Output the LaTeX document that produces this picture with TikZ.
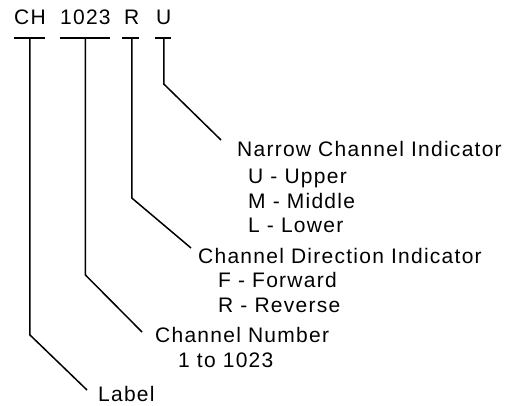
\documentclass[tikz,border=0pt]{standalone}
\usepackage{fontspec}
\setmainfont{Liberation Sans}[LetterSpace=6]

\begin{document}
\begin{tikzpicture}[x=1pt, y=-1pt,
		txt/.style={anchor=base west, inner sep=0pt, font=\fontsize{21}{25}\selectfont},
		lead/.style={line width=1.5pt, line join=miter}]
		\useasboundingbox (0,0) rectangle (513,406);
		
		% code fields
		\node[txt] (ch) at (14,25) {CH};
		\node[txt] (num) at (60,25) {1023};
		\node[txt] (dir) at (124,25) {R};
		\node[txt] (nar) at (156,25) {U};
		
		% descriptions
		\node[txt] (narT) at (237,157) {Narrow Channel Indicator};
		\node[txt] (narU) at (248,183) {U - Upper};
		\node[txt] (narM) at (248,208) {M - Middle};
		\node[txt] (narL) at (248,232) {L - Lower};
		
		\node[txt] (dirT) at (198,263) {Channel Direction Indicator};
		\node[txt] (dirF) at (218,287) {F - Forward};
		\node[txt] (dirR) at (218,312) {R - Reverse};
		
		\node[txt] (numT) at (155,342) {Channel Number};
		\node[txt] (numR) at (178,367) {1 to 1023};
		
		\node[txt] (lbl) at (98,401) {Label};
		
		% bend heights and line ends
		\coordinate (chBend) at (0,335);
		\coordinate (numBend) at (0,275);
		\coordinate (dirBend) at (0,198);
		\coordinate (narBend) at (0,84);
		
		\coordinate (chEnd) at ([shift={(-11,-11)}]lbl.base west);
		\coordinate (numEnd) at ([shift={(-13,-10)}]numT.base west);
		\coordinate (dirEnd) at ([shift={(-7,-15)}]dirT.base west);
		\coordinate (narEnd) at ([shift={(-16,-17)}]narT.base west);
		
		% underlines
		\draw[lead] ([shift={(0,13)}]ch.base west) -- ([shift={(-1,13)}]ch.base east);
		\draw[lead] ([shift={(0,13)}]num.base west) -- ([shift={(-1,13)}]num.base east);
		\draw[lead] ([shift={(-2,13)}]dir.base west) -- ([shift={(-1,13)}]dir.base east);
		\draw[lead] ([shift={(-1,13)}]nar.base west) -- ([shift={(-1,13)}]nar.base east);
		
		% leaders
		\draw[lead] ([shift={(0,13)}]ch.base) -- (ch.base |- chBend) -- (chEnd);
		\draw[lead] ([shift={(0,13)}]num.base) -- (num.base |- numBend) -- (numEnd);
		\draw[lead] ([shift={(0,13)}]dir.base) -- (dir.base |- dirBend) -- (dirEnd);
		\draw[lead] ([shift={(0,13)}]nar.base) -- (nar.base |- narBend) -- (narEnd);
	\end{tikzpicture}
\end{document}
